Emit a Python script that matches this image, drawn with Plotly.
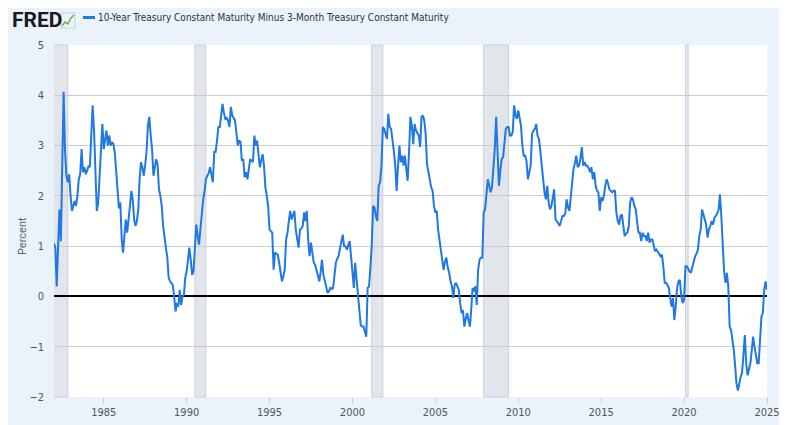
import pandas as pd
import plotly.graph_objs as go

# 10-Year minus 3-Month Treasury constant maturity spread, monthly, percent
spread_1982_1989 = [
    1.06, 0.95, 0.2, 1.0, 1.73, 1.1, 2.6, 4.07, 2.9, 2.4, 2.27, 2.43,
    2.0, 1.7, 1.8, 1.9, 1.8, 2.0, 2.33, 2.43, 2.93, 2.47, 2.57, 2.43,
    2.5, 2.6, 2.57, 3.27, 3.8, 3.3, 2.4, 1.7, 1.87, 2.47, 3.1, 3.43,
    2.93, 3.15, 3.3, 3.0, 3.2, 3.0, 3.07, 3.03, 2.86, 2.5, 2.0, 1.75,
    1.87, 1.13, 0.87, 1.3, 1.53, 1.27, 1.6, 1.8, 2.1, 1.93, 1.53, 1.4,
    1.5, 1.73, 2.33, 2.67, 2.57, 2.4, 2.6, 2.87, 3.4, 3.57, 3.2, 2.93,
    2.4, 2.6, 2.73, 2.63, 2.13, 2.0, 1.8, 1.4, 1.1, 0.97, 0.77, 0.37,
    0.3, 0.27, 0.23, 0.0, -0.3, -0.13, -0.2, 0.13, -0.17, 0.0, 0.03, 0.37]
spread_1990_1999 = [
    0.5, 0.73, 0.97, 0.73, 0.43, 0.5, 1.0, 1.43, 1.2, 1.03, 1.35, 1.67,
    1.93, 2.1, 2.33, 2.4, 2.45, 2.57, 2.4, 2.27, 2.87, 2.87, 3.1, 3.37,
    3.37, 3.6, 3.83, 3.65, 3.53, 3.55, 3.5, 3.37, 3.77, 3.6, 3.55, 3.5,
    3.25, 3.0, 3.1, 3.07, 2.7, 2.73, 2.37, 2.47, 2.33, 2.5, 2.73, 2.7,
    2.67, 3.2, 3.0, 3.1, 2.8, 2.57, 2.7, 2.83, 2.6, 2.17, 2.0, 1.8,
    1.33, 1.3, 1.27, 0.53, 0.87, 0.85, 0.83, 0.67, 0.5, 0.3, 0.4, 0.53,
    1.13, 1.27, 1.5, 1.7, 1.53, 1.6, 1.7, 1.33, 1.15, 0.97, 1.33, 1.35,
    1.4, 1.67, 1.5, 1.7, 1.13, 0.8, 1.07, 0.85, 0.67, 0.63, 0.5, 0.37,
    0.3, 0.5, 0.73, 0.43, 0.33, 0.2, 0.07, 0.1, 0.17, 0.15, 0.17, 0.4,
    0.67, 0.75, 0.8, 0.95, 1.07, 1.23, 1.0, 1.0, 0.93, 1.0, 1.1, 0.8]
spread_2000_2009 = [
    0.53, 0.17, 0.67, 0.3, 0.07, -0.27, -0.57, -0.6, -0.6, -0.7, -0.8, 0.17,
    0.2, 0.6, 1.0, 1.8, 1.77, 1.6, 1.5, 2.2, 2.27, 2.6, 3.37, 3.33,
    3.2, 3.13, 3.63, 3.37, 3.33, 3.13, 2.9, 2.6, 2.1, 2.6, 3.0, 2.67,
    2.8, 2.6, 2.8, 2.53, 2.3, 2.87, 3.57, 3.4, 3.03, 3.43, 3.3, 3.25,
    3.2, 2.97, 3.57, 3.6, 3.5, 3.23, 2.63, 2.47, 2.3, 2.17, 2.1, 1.8,
    1.67, 1.7, 1.33, 1.1, 0.93, 0.73, 0.53, 0.7, 0.77, 0.57, 0.47, 0.3,
    0.2, -0.03, 0.23, 0.27, 0.2, 0.13, -0.13, -0.33, -0.27, -0.6, -0.45, -0.33,
    -0.47, -0.6, -0.27, 0.17, 0.1, 0.2, -0.17, 0.53, 0.73, 0.77, 0.77, 1.67,
    1.73, 2.0, 2.33, 2.2, 2.07, 2.17, 2.5, 2.93, 3.57, 2.93, 2.2, 2.5,
    2.73, 2.77, 3.0, 3.33, 3.37, 3.37, 3.2, 3.2, 3.27, 3.8, 3.6, 3.53]
spread_2010_2019 = [
    3.7, 3.55, 3.4, 3.0, 2.8, 2.8, 2.7, 2.33, 2.5, 2.6, 3.23, 3.3,
    3.33, 3.43, 3.2, 3.13, 2.9, 2.6, 2.3, 2.07, 1.93, 2.2, 1.87, 1.73,
    1.8, 2.0, 2.13, 1.53, 1.5, 1.45, 1.4, 1.5, 1.6, 1.6, 1.65, 1.93,
    1.77, 1.7, 1.95, 2.2, 2.53, 2.65, 2.8, 2.57, 2.6, 2.75, 2.97, 2.6,
    2.67, 2.6, 2.6, 2.55, 2.47, 2.57, 2.33, 2.47, 2.2, 2.1, 2.07, 1.7,
    1.97, 1.9, 2.0, 2.2, 2.33, 2.25, 2.13, 2.1, 2.07, 2.1, 2.1, 1.67,
    1.5, 1.43, 1.6, 1.63, 1.37, 1.2, 1.25, 1.27, 1.4, 1.87, 1.97, 1.93,
    1.8, 1.73, 1.5, 1.27, 1.27, 1.1, 1.27, 1.2, 1.2, 1.1, 1.27, 1.07,
    1.13, 1.13, 1.03, 0.9, 0.93, 0.9, 0.85, 0.8, 0.83, 0.6, 0.27, 0.27,
    0.2, 0.17, -0.03, -0.2, -0.03, -0.47, -0.2, 0.17, 0.3, 0.33, 0.0, -0.13]
spread_2020_2025 = [
    -0.07, 0.6, 0.6, 0.53, 0.5, 0.47, 0.6, 0.7, 0.8, 0.85, 0.93, 1.2,
    1.33, 1.73, 1.63, 1.5, 1.43, 1.17, 1.33, 1.4, 1.5, 1.43, 1.57, 1.6,
    1.65, 1.73, 2.03, 1.6, 0.93, 0.5, 0.27, 0.47, 0.2, -0.6, -0.67, -0.85,
    -1.07, -1.4, -1.73, -1.87, -1.7, -1.6, -1.53, -1.07, -0.77, -1.33, -1.57, -1.45,
    -1.33, -1.07, -0.8, -1.0, -1.2, -1.33, -1.33, -0.8, -0.4, -0.33, 0.13, 0.3,
    0.13]

spread = spread_1982_1989 + spread_1990_1999 + spread_2000_2009 + spread_2010_2019 + spread_2020_2025
dates = pd.date_range('1982-01-01', periods=len(spread), freq='MS')

# NBER recessions (shaded)
recessions = [('1981-07-01', '1982-11-01'), ('1990-07-01', '1991-03-01'),
              ('2001-03-01', '2001-11-01'), ('2007-12-01', '2009-06-01'),
              ('2020-02-01', '2020-04-01')]

tick_years = [1985, 1990, 1995, 2000, 2005, 2010, 2015, 2020, 2025]
series_name = '10-Year Treasury Constant Maturity Minus 3-Month Treasury Constant Maturity'

# the page body keeps its default 8px margin, so the figure sits at (8, 8)
OFF = 8
W, H = 773, 417
L, R, T, B = 46, 14, 37, 28
LINE_BLUE = '#1f78e4'
NARROW = 'DejaVu Sans Condensed, Roboto, sans-serif'


def px(x, y):
    # window pixel position -> paper coordinates
    x, y = x - OFF, y - OFF
    return (x - L) / (W - L - R), (H - B - y) / (H - T - B)


shapes = []
for start, end in recessions:
    shapes.append(dict(type='rect', xref='x', yref='paper', x0=start, x1=end, y0=0, y1=1,
                       fillcolor='#e2e6ec', line=dict(color='#cdd1d7', width=1), layer='below'))

# small graph icon next to the logo
ix0, iy0 = px(61, 13)
ix1, iy1 = px(75, 28)
shapes.append(dict(type='rect', xref='paper', yref='paper', x0=ix0, x1=ix1, y0=iy1, y1=iy0,
                   fillcolor='#eef2f6', line=dict(color='#c9d1da', width=1)))
icon_pts = [px(62, 26), px(65, 22), px(68, 24), px(71, 18), px(74, 15)]
shapes.append(dict(type='path', xref='paper', yref='paper',
                   path='M ' + ' L '.join(f'{p[0]:.4f},{p[1]:.4f}' for p in icon_pts),
                   line=dict(color='#5cb85c', width=1.5)))

# legend swatch
lx0, ly = px(83, 17.5)
lx1, _ = px(95, 17.5)
shapes.append(dict(type='line', xref='paper', yref='paper', x0=lx0, x1=lx1, y0=ly, y1=ly,
                   line=dict(color=LINE_BLUE, width=3)))

annotations = []
fx, fy = px(11, 20)
annotations.append(dict(x=fx, y=fy, xref='paper', yref='paper', text='<b>FRED</b>', showarrow=False,
                        xanchor='left', yanchor='middle', borderpad=0,
                        font=dict(family='Roboto, sans-serif', size=21, color='#1a1a1a')))
tx, ty = px(96, 17.5)
annotations.append(dict(x=tx, y=ty, xref='paper', yref='paper', text=series_name, showarrow=False,
                        xanchor='left', yanchor='middle',
                        font=dict(family=NARROW, size=10, color='#333333')))
px_, py_ = px(22, 236)
annotations.append(dict(x=px_, y=py_, xref='paper', yref='paper', text='Percent', showarrow=False,
                        textangle=-90, xanchor='center', yanchor='middle',
                        font=dict(family='Roboto, sans-serif', size=11, color='#666666')))

trace = go.Scatter(
    x=dates,
    y=spread,
    mode='lines',
    name=series_name,
    line=dict(color=LINE_BLUE, width=2),
)

layout = go.Layout(
    width=W, height=H,
    margin=dict(l=L, r=R, t=T, b=B, autoexpand=False),
    paper_bgcolor='#eaf2fa',
    plot_bgcolor='white',
    showlegend=False,
    xaxis=dict(
        range=[dates[0], dates[-1]],
        tickvals=[f'{y}-01-01' for y in tick_years],
        ticktext=[str(y) for y in tick_years],
        ticks='outside', ticklen=5, tickcolor='#cccccc',
        ticklabeloverflow='allow',
        showgrid=False, zeroline=False, showline=False,
        tickfont=dict(family=NARROW, size=11, color='#555555'),
    ),
    yaxis=dict(
        range=[-2, 5], dtick=1,
        gridcolor='#cccccc', gridwidth=1,
        zeroline=True, zerolinecolor='#000000', zerolinewidth=2,
        showline=False, ticks='',
        ticklabelstandoff=9,
        tickfont=dict(family=NARROW, size=11, color='#555555'),
    ),
    shapes=shapes,
    annotations=annotations,
)

fig = go.Figure(data=[trace], layout=layout)
fig.write_html('out.html')
